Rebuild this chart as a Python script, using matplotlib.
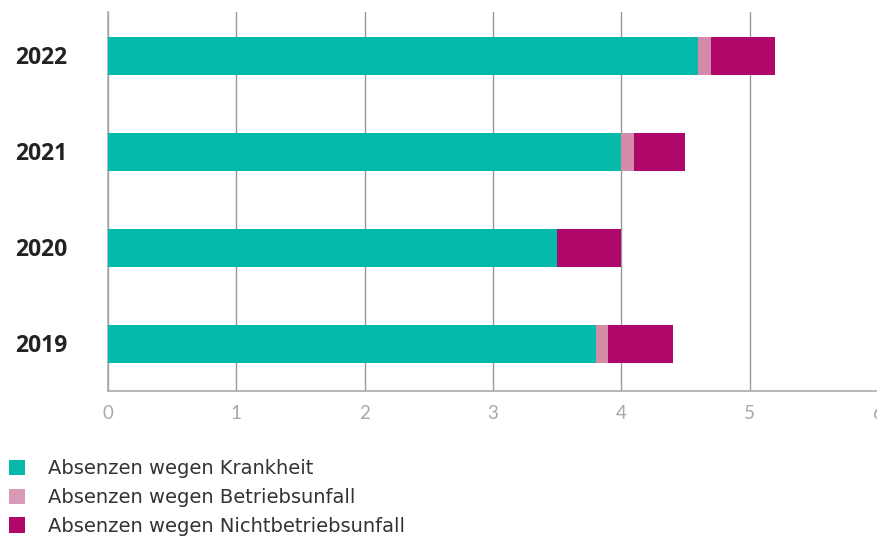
import matplotlib.pyplot as plt
from matplotlib.patches import Patch
from matplotlib.transforms import blended_transform_factory

# Daten (Prozent der Sollarbeitszeit)
jahre = ['2019', '2020', '2021', '2022']
krankheit = [3.8, 3.5, 4.0, 4.6]
betriebsunfall = [0.1, 0.0, 0.1, 0.1]
nichtbetriebsunfall = [0.5, 0.5, 0.4, 0.5]
x_ticks = [0, 1, 2, 3, 4, 5, 6]

labels = ['Absenzen wegen Krankheit', 'Absenzen wegen Betriebsunfall',
          'Absenzen wegen Nichtbetriebsunfall']
farben = ['#05b9ab', '#d89ab5', '#b0076a']

fig = plt.figure(figsize=(8.78, 5.39), dpi=100)
ax = fig.add_axes([0.123, 0.2746, 0.8770, 0.7031])

pos = list(range(len(jahre)))
links2 = [a + b for a, b in zip(krankheit, betriebsunfall)]
ax.barh(pos, krankheit, height=0.4, color=farben[0], zorder=3)
ax.barh(pos, betriebsunfall, left=krankheit, height=0.4, color='#d48ba8', zorder=3)
ax.barh(pos, nichtbetriebsunfall, left=links2, height=0.4, color=farben[2], zorder=3)

ax.set_xlim(0, 6)
ax.set_ylim(-0.49, 3.46)
ax.set_xticks(x_ticks)
ax.set_xticklabels([str(t) for t in x_ticks], fontsize=13.5, color='#a8a8a8',
                   fontfamily='Lato')
ax.tick_params(axis='x', length=0, pad=10)
ax.set_yticks([])
ax.grid(axis='x', color='#999999', linewidth=1, zorder=0)
for s in ['top', 'right']:
    ax.spines[s].set_visible(False)
for s in ['left', 'bottom']:
    ax.spines[s].set_color('#aaaaaa')
    ax.spines[s].set_linewidth(1.2)

# Jahreszahlen links
trans = blended_transform_factory(fig.transFigure, ax.transData)
for p, j in zip(pos, jahre):
    ax.text(15 / 878, p - 0.02, j, transform=trans, ha='left', va='center',
            fontsize=16.5, fontweight='bold', color='#222222',
            fontfamily='Open Sans')

handles = [Patch(facecolor=c, edgecolor='none') for c in farben]
fig.legend(handles, labels, loc='upper left', bbox_to_anchor=(0.0, 0.164),
           frameon=False, fontsize=14, handlelength=0.83, handleheight=0.83,
           handletextpad=1.2, labelspacing=0.5, borderpad=0.2,
           borderaxespad=0.25, labelcolor='#333333')

plt.savefig('out.png', dpi=100)
plt.close()
